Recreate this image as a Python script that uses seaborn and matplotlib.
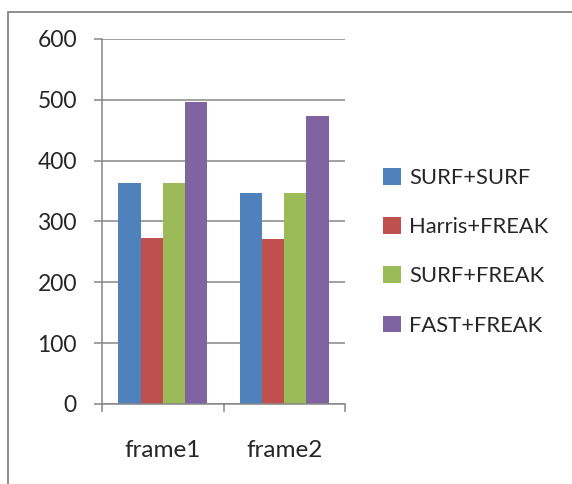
import pandas as pd
import seaborn as sns
import matplotlib.pyplot as plt
from matplotlib.patches import Rectangle, Patch

frames = ["frame1", "frame2"]
methods = ["SURF+SURF", "Harris+FREAK", "SURF+FREAK", "FAST+FREAK"]
surf_surf = [364, 347]
harris_freak = [273, 271]
surf_freak = [364, 347]
fast_freak = [497, 474]
colors = ["#4F81BD", "#C0504D", "#9BBB59", "#8064A2"]
yticks = [0, 100, 200, 300, 400, 500, 600]

rows = []
for vals, m in zip([surf_surf, harris_freak, surf_freak, fast_freak], methods):
    for f, v in zip(frames, vals):
        rows.append({"frame": f, "method": m, "value": v})
df = pd.DataFrame(rows)

sns.set_style("white")
plt.rcParams["font.family"] = ["Lato", "DejaVu Sans"]
grey = "#868686"

fig = plt.figure(figsize=(5.72, 4.84), dpi=100)
ax = fig.add_axes([102 / 572, 80 / 484, 243 / 572, 365 / 484])

sns.barplot(data=df, x="frame", y="value", hue="method", hue_order=methods,
            palette=colors, width=0.73, saturation=1, ax=ax, legend=False,
            edgecolor="none")

ax.set_ylim(0, 600)
ax.set_xlim(-0.5, 1.5)
ax.set_yticks(yticks)
ax.yaxis.grid(True, color=grey, linewidth=1.1)
ax.set_axisbelow(True)
ax.set_xlabel("")
ax.set_ylabel("")
for s in ["top", "right"]:
    ax.spines[s].set_visible(False)
for s in ["left", "bottom"]:
    ax.spines[s].set_color(grey)
    ax.spines[s].set_linewidth(1.1)

ax.tick_params(axis="y", direction="out", length=6, width=1.1, color=grey,
               labelsize=16.5, pad=12, left=True)
ax.set_xticks([-0.5, 0.5, 1.5], minor=True)
ax.tick_params(axis="x", which="minor", direction="out", length=6, width=1.1,
               color=grey, bottom=True)
ax.tick_params(axis="x", which="major", length=0, labelsize=17.5, pad=26)

handles = [Patch(facecolor=c, edgecolor="none") for c in colors]
fig.legend(handles, methods, loc="upper left", bbox_to_anchor=(383 / 572, 1 - 168 / 484),
           frameon=False, fontsize=15.8, handlelength=0.8, handleheight=0.8,
           handletextpad=0.4, labelspacing=1.33, borderpad=0, borderaxespad=0)

fig.patches.append(Rectangle((8 / 572, -0.1), 1.2, 1.1 - 12 / 484,
                             transform=fig.transFigure, fill=False,
                             edgecolor=grey, linewidth=1.3))

fig.savefig("out.png", dpi=100)
